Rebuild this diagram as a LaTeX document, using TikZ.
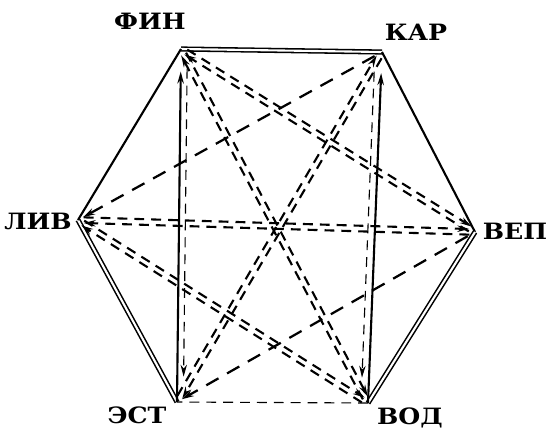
\documentclass[tikz,border=0pt]{standalone}
\usepackage{fontspec}
\newfontfamily\labfont[FakeStretch=1.12]{DejaVu Serif}
\usetikzlibrary{arrows.meta,calc}
\tikzset{
  >={Stealth[length=3mm,width=1.6mm]},
  rim/.style={line width=1.5pt},
  twin/.style={double,double distance=1.5pt,line width=1.1pt},
  link/.style={line width=1.5pt,dash pattern=on 7pt off 5pt,shorten >=4pt,shorten <=4pt},
  longlink/.style={line width=1.6pt,dash pattern=on 10pt off 7pt,shorten >=4pt,shorten <=6pt},
  thinlink/.style={line width=0.8pt,dash pattern=on 7pt off 5pt},
  lang/.style={font=\labfont\bfseries\fontsize{16}{18}\selectfont,inner sep=0pt},
}
\begin{document}
\begin{tikzpicture}[x=0.025cm,y=-0.025cm]
  \useasboundingbox (0,0) rectangle (548,430);
  % corners of the hexagon
  \coordinate (F) at (181,49);
  \coordinate (K) at (382,52);
  \coordinate (V) at (475,232);
  \coordinate (D) at (368,403);
  \coordinate (E) at (177,402);
  \coordinate (L) at (78,220);
  % names
  \node[lang] (fin) at (150,21) {ФИН};
  \node[lang] (kar) at (416,32) {КАР};
  \node[lang] (vep) at (515,231) {ВЕП};
  \node[lang] (vod) at (410,418) {ВОД};
  \node[lang] (est) at (137,415) {ЭСТ};
  \node[lang] (liv) at (38,221) {ЛИВ};
  % rim
  \draw[twin] (F) -- (K);
  \draw[rim] (K) -- (V);
  \draw[twin] (V) -- (D);
  \draw[thinlink] (D) -- (E);
  \draw[twin] (E) -- (L);
  \draw[rim] (L) -- (F);
  % sides of the inner rectangle
  \draw[rim,->,shorten >=16pt] (E) -- (F);
  \draw[thinlink,->,shorten >=18pt,shorten <=14pt] ([xshift=4.5pt]F) -- ([xshift=4.5pt]E);
  \draw[rim,->,shorten >=15pt] (D) -- (K);
  \draw[thinlink,->,shorten >=18pt,shorten <=14pt] ([xshift=-5pt]K) -- ([xshift=-5pt]D);
  % two-way links
  \foreach \a/\b in {F/V,F/D,K/E,L/V,L/D}{
    \draw[link,->] ($(\a)!2pt!90:(\b)$) -- ($(\b)!2pt!-90:(\a)$);
    \draw[link,->] ($(\b)!2pt!90:(\a)$) -- ($(\a)!2pt!-90:(\b)$);
  }
  % one-way links
  \draw[longlink,->] (K) -- (L);
  \draw[longlink,->] (V) -- (E);
\end{tikzpicture}
\end{document}
